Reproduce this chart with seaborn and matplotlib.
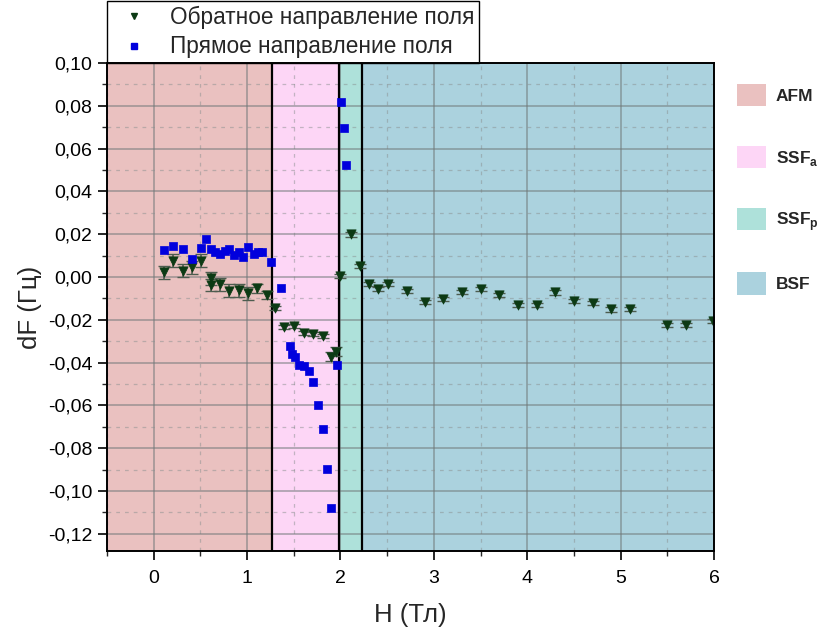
import numpy as np
import pandas as pd
import matplotlib
matplotlib.use("Agg")
import matplotlib.pyplot as plt
import seaborn as sns
from matplotlib.patches import Patch
from matplotlib.lines import Line2D
from matplotlib.ticker import FuncFormatter, MultipleLocator

# ---- data ----
rev_H = [0.11, 0.21, 0.31, 0.41, 0.51, 0.61, 0.61, 0.71, 0.81, 0.91, 1.01, 1.11, 1.21,
         1.30, 1.40, 1.50, 1.61, 1.71, 1.81, 1.90, 1.95, 2.00, 2.11, 2.21, 2.31, 2.40,
         2.51, 2.71, 2.91, 3.10, 3.30, 3.50, 3.70, 3.90, 4.10, 4.30, 4.50, 4.70, 4.90,
         5.10, 5.50, 5.70, 5.99]
rev_dF = [0.0022, 0.0076, 0.0029, 0.0045, 0.0076, -0.0006, -0.0037, -0.0033, -0.0064,
          -0.0061, -0.0076, -0.0053, -0.0084, -0.0143, -0.0235, -0.0229, -0.0263, -0.0266,
          -0.0276, -0.0372, -0.0349, 0.0005, 0.0199, 0.0053, -0.0033, -0.0056, -0.0033,
          -0.0064, -0.0115, -0.0104, -0.0069, -0.0056, -0.0083, -0.0131, -0.0129, -0.0072,
          -0.0112, -0.0120, -0.0151, -0.0150, -0.0224, -0.0224, -0.0204]
rev_err = [0.003, 0.003, 0.003, 0.003, 0.003, 0.003, 0.003, 0.003, 0.003, 0.003, 0.003,
           0.002, 0.002, 0.001, 0.001, 0.001, 0.001, 0.001, 0.001, 0.002, 0.002, 0.001,
           0.001, 0.001, 0.001, 0.001, 0.001, 0.001, 0.001, 0.001, 0.001, 0.001, 0.001,
           0.001, 0.001, 0.001, 0.001, 0.001, 0.001, 0.001, 0.001, 0.001, 0.001]

fwd_H = [0.11, 0.21, 0.31, 0.41, 0.51, 0.56, 0.61, 0.66, 0.71, 0.76, 0.81, 0.86, 0.91,
         0.96, 1.01, 1.07, 1.12, 1.16, 1.26, 1.36, 1.46, 1.48, 1.51, 1.56, 1.61, 1.66,
         1.71, 1.76, 1.81, 1.86, 1.90, 1.96, 2.01, 2.04, 2.06]
fwd_dF = [0.0126, 0.0147, 0.0129, 0.0085, 0.0138, 0.0178, 0.0129, 0.0118, 0.0106, 0.0123,
          0.0129, 0.0103, 0.0118, 0.0095, 0.0142, 0.0110, 0.0115, 0.0118, 0.0069, -0.0053,
          -0.0322, -0.0361, -0.0372, -0.0411, -0.0414, -0.0438, -0.0489, -0.0598, -0.0710,
          -0.0899, -0.1080, -0.0411, 0.0818, 0.0695, 0.0522]

phase_names = ["AFM", "SSF$_\\mathregular{a}$", "SSF$_\\mathregular{p}$", "BSF"]
phase_edges = [-0.5, 1.27, 1.985, 2.235, 6.0]
phase_colors = ["#eac1c0", "#fdd6f6", "#aee1da", "#abd2de"]

label_rev = "Обратное направление поля"
label_fwd = "Прямое направление поля"

# ---- plot ----
sns.set_theme(style="ticks")
plt.rcParams["font.family"] = ["Liberation Sans", "DejaVu Sans"]

fig = plt.figure(figsize=(8.19, 6.34), dpi=100)
ax = fig.add_axes([0.1306, 0.1309, 0.7412, 0.7697])

for i in range(4):
    ax.axvspan(phase_edges[i], phase_edges[i + 1], color=phase_colors[i], lw=0, zorder=0)
for e in phase_edges[1:4]:
    ax.axvline(e, color="black", lw=1.6, zorder=3)

df_rev = pd.DataFrame({"H": rev_H, "dF": rev_dF, "err": rev_err})
df_fwd = pd.DataFrame({"H": fwd_H, "dF": fwd_dF})

ax.errorbar(df_rev["H"], df_rev["dF"], yerr=df_rev["err"], fmt="none",
            ecolor="#4d5c4f", elinewidth=1.2, capsize=4, zorder=4)
ax.errorbar(df_fwd["H"], df_fwd["dF"], xerr=0.02, fmt="none",
            ecolor="#5a5af0", elinewidth=1.2, capsize=0, zorder=4)

sns.scatterplot(data=df_rev, x="H", y="dF", marker="v", s=45, color="#0c3a14",
                edgecolor="#0c3a14", linewidth=0.5, ax=ax, zorder=5, legend=False)
sns.scatterplot(data=df_fwd, x="H", y="dF", marker="s", s=28, color="#0000dd",
                edgecolor="#0000dd", linewidth=0.5, ax=ax, zorder=5, legend=False)

ax.set_xlim(-0.5, 6.0)
ax.set_ylim(-0.128, 0.10)
ax.xaxis.set_major_locator(MultipleLocator(1))
ax.xaxis.set_minor_locator(MultipleLocator(0.5))
ax.yaxis.set_major_locator(MultipleLocator(0.02))
ax.yaxis.set_minor_locator(MultipleLocator(0.01))
ax.yaxis.set_major_formatter(FuncFormatter(lambda v, p: f"{v:.2f}".replace(".", ",").replace("-0,00", "0,00")))
ax.xaxis.set_major_formatter(FuncFormatter(lambda v, p: f"{v:.0f}"))

ax.grid(which="major", color="#707878", alpha=0.55, lw=1.3, zorder=1)
ax.grid(which="minor", color="#8a9090", alpha=0.5, lw=0.9, ls=(0, (3, 4)), zorder=1)
ax.set_axisbelow(False)
for a in ax.get_xgridlines() + ax.get_ygridlines():
    a.set_zorder(1)

ax.tick_params(which="major", direction="out", length=6.5, width=1.2, labelsize=14, colors="black")
ax.tick_params(which="minor", direction="out", length=3.5, width=1.0)
ax.tick_params(axis="x", which="major", pad=7)
ax.tick_params(axis="y", which="major", pad=4)
for s in ax.spines.values():
    s.set_linewidth(1.4)
    s.set_color("black")
    s.set_zorder(6)

ax.set_xlabel("H (Тл)", fontsize=18.5, labelpad=12)
ax.set_ylabel("dF (Гц)", fontsize=18.5, labelpad=4)

h_rev = Line2D([], [], marker="v", ls="none", color="#0c3a14", markersize=5)
h_fwd = Line2D([], [], marker="s", ls="none", color="#0000dd", markersize=4)
leg1 = ax.legend([h_rev, h_fwd], [label_rev, label_fwd], loc="lower left",
                 bbox_to_anchor=(0.0, 1.0), borderaxespad=0.0, fontsize=16.3,
                 frameon=True, fancybox=False, edgecolor="black", framealpha=1,
                 handletextpad=0.6, borderpad=0.2, labelspacing=0.3, handlelength=2.0)
leg1.get_frame().set_linewidth(1.0)
ax.add_artist(leg1)

patches = [Patch(facecolor=c, edgecolor="none") for c in phase_colors]
leg2 = ax.legend(patches, phase_names, loc="upper left", bbox_to_anchor=(1.026, 0.971),
                 borderaxespad=0.0, frameon=False, fontsize=12.5, handlelength=1.7,
                 handleheight=1.6, labelspacing=2.28, handletextpad=0.55)
for t in leg2.get_texts():
    t.set_fontweight("bold")

fig.savefig("out.png", dpi=100)
